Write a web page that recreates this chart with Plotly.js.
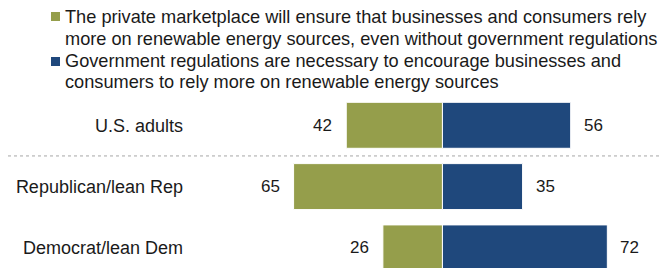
<!DOCTYPE html>
<html>
<head>
<meta charset="utf-8">
<script src="https://cdn.plot.ly/plotly-3.0.1.min.js"></script>
<style>html,body{margin:0;padding:0;background:#fff;}#chart{width:660px;height:268px;}</style>
</head>
<body>
<div id="chart"></div>
<script>
const categories = ["U.S. adults", "Republican/lean Rep", "Democrat/lean Dem"];
const marketValues = [42, 65, 26];
const regulationValues = [56, 35, 72];
const seriesNames = [
  "The private marketplace will ensure that businesses and consumers rely<br>more on renewable energy sources, even without government regulations",
  "Government regulations are necessary to encourage businesses and<br>consumers to rely more on renewable energy sources"
];
const colors = ["#959e4b", "#1f487c"];

const FONT = "Liberation Sans, Arial, sans-serif";
const TEXT = "#1a1a1a";
const traces = [
  {
    type: "bar", orientation: "h", y: categories,
    x: marketValues.map(v => -v), base: 0,
    name: seriesNames[0], marker: {color: colors[0], line: {color: "#ffffff", width: 1}},
    hoverinfo: "skip", showlegend: false
  },
  {
    type: "bar", orientation: "h", y: categories,
    x: regulationValues, base: 0,
    name: seriesNames[1], marker: {color: colors[1], line: {color: "#ffffff", width: 1}},
    hoverinfo: "skip", showlegend: false
  }
];

const L = 188, T = 96, PW = 472, PH = 172;
const px2x = x => (x - L) / PW;
const px2y = y => 1 + (T - y) / PH;

const annotations = [];
categories.forEach((c, i) => {
  annotations.push({x: -marketValues[i], y: c, xref: "x", yref: "y", text: String(marketValues[i]),
    showarrow: false, xanchor: "right", xshift: -12, font: {family: FONT, size: 17, color: TEXT}});
  annotations.push({x: regulationValues[i], y: c, xref: "x", yref: "y", text: String(regulationValues[i]),
    showarrow: false, xanchor: "left", xshift: 11, font: {family: FONT, size: 17, color: TEXT}});
});
// legend texts, one annotation per line
const lineMiddles = [[16.5, 39], [60.5, 82]];
seriesNames.forEach((n, i) => {
  n.split("<br>").forEach((line, j) => {
    annotations.push({x: px2x(63), y: px2y(lineMiddles[i][j]), xref: "paper", yref: "paper", text: line, align: "left",
      showarrow: false, xanchor: "left", yanchor: "middle", font: {family: FONT, size: 18.2, color: TEXT}});
  });
});

const shapes = [
  {type: "line", xref: "paper", yref: "y", x0: px2x(8), x1: 1, y0: 0.5, y1: 0.5,
   line: {color: "#a6a6a6", width: 1, dash: "dot"}}
];
const squareTops = [12, 57];
squareTops.forEach((t, i) => {
  shapes.push({type: "rect", xref: "paper", yref: "paper",
    x0: px2x(51), x1: px2x(60), y0: px2y(t), y1: px2y(t + 9),
    fillcolor: colors[i], line: {width: 0}});
});

const layout = {
  width: 660, height: 268,
  margin: {l: L, r: 0, t: T, b: 0, pad: 0},
  paper_bgcolor: "#fff", plot_bgcolor: "#fff",
  barmode: "overlay", bargap: 0.25,
  showlegend: false,
  xaxis: {range: [-111.1, 95.0], showgrid: false, zeroline: false, showticklabels: false, fixedrange: true},
  yaxis: {type: "category", range: [2.328, -0.478], autorange: false, showgrid: false, zeroline: false,
    ticks: "", ticklabelstandoff: 4, tickfont: {family: FONT, size: 18, color: TEXT}},
  annotations: annotations,
  shapes: shapes
};
Plotly.newPlot("chart", traces, layout, {displayModeBar: false, staticPlot: true});
</script>
</body>
</html>
